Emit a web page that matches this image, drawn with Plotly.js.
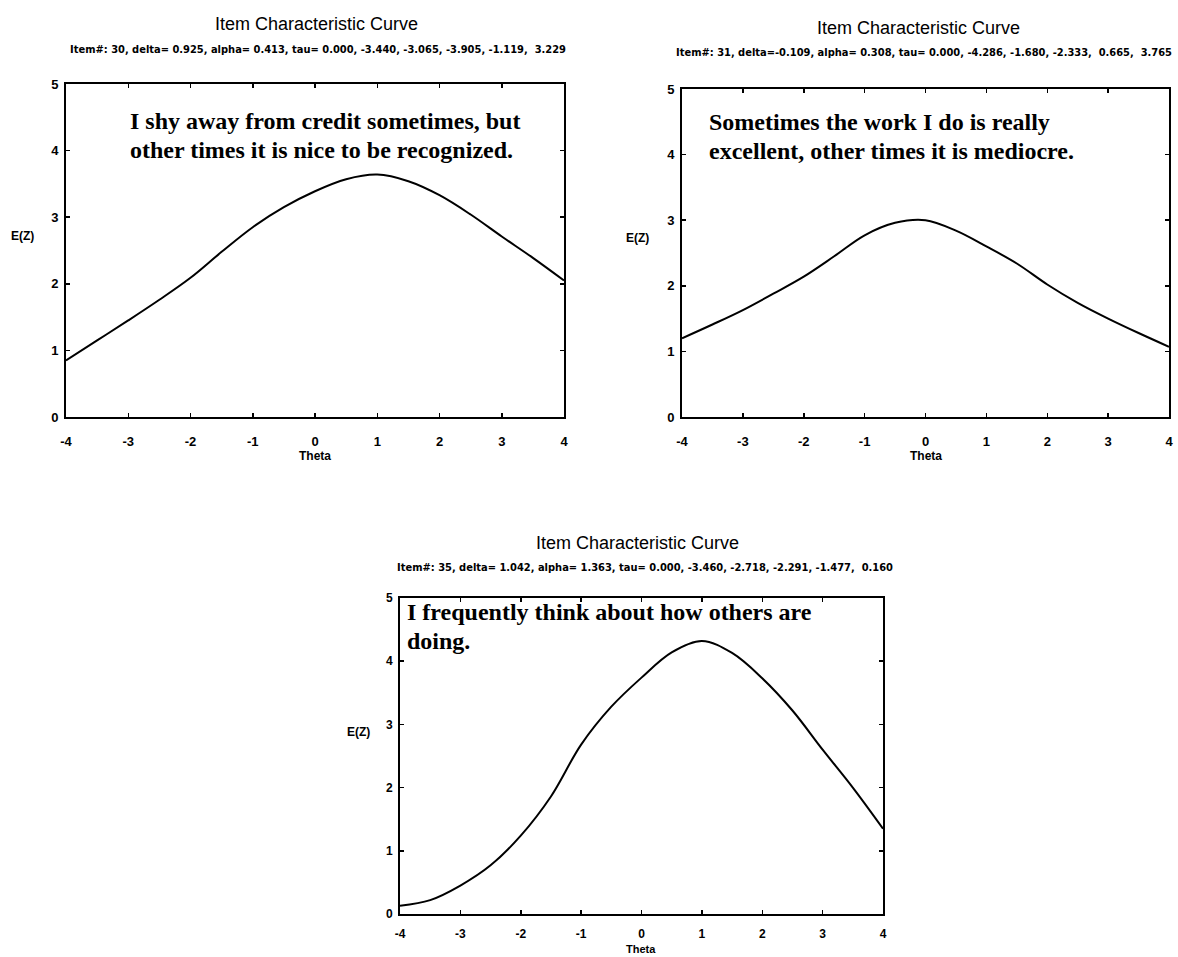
<!DOCTYPE html>
<html>
<head>
<meta charset="utf-8">
<script src="https://cdn.plot.ly/plotly-3.0.1.min.js"></script>
<style>
  html, body { margin: 0; padding: 0; background: #fff; }
  #chart { width: 1178px; height: 957px; }
</style>
</head>
<body>
<div id="chart"></div>
<script>
// Expected item score E(Z) over the latent trait Theta for three items
const theta  = [-4, -3.5, -3, -2.5, -2, -1.5, -1, -0.5, 0, 0.5, 1, 1.5, 2, 2.5, 3, 3.5, 4];
const item30 = [0.85, 1.15, 1.45, 1.76, 2.09, 2.48, 2.85, 3.15, 3.39, 3.57, 3.64, 3.54, 3.33, 3.04, 2.71, 2.39, 2.05];
const item31 = [1.20, 1.41, 1.63, 1.88, 2.14, 2.45, 2.77, 2.96, 3.00, 2.84, 2.60, 2.34, 2.02, 1.74, 1.50, 1.28, 1.07];
const item35 = [0.13, 0.22, 0.45, 0.77, 1.24, 1.86, 2.68, 3.28, 3.74, 4.14, 4.32, 4.13, 3.73, 3.22, 2.60, 2.00, 1.35];

const xTickVals = [-4, -3, -2, -1, 0, 1, 2, 3, 4];
const xTickText = ['-4', '-3', '-2', '-1', '0', '1', '2', '3', '4'];
const yTickVals = [0, 1, 2, 3, 4, 5];
const yTickText = ['0', '1', '2', '3', '4', '5'];

const panelTitle = 'Item Characteristic Curve';
const itemParams = [
  'Item#: 30, delta= 0.925, alpha= 0.413, tau= 0.000, -3.440, -3.065, -3.905, -1.119,  3.229',
  'Item#: 31, delta=-0.109, alpha= 0.308, tau= 0.000, -4.286, -1.680, -2.333,  0.665,  3.765',
  'Item#: 35, delta= 1.042, alpha= 1.363, tau= 0.000, -3.460, -2.718, -2.291, -1.477,  0.160'
];
const statements = [
  ['I shy away from credit sometimes, but', 'other times it is nice to be recognized.'],
  ['Sometimes the work I do is really', 'excellent, other times it is mediocre.'],
  ['I frequently think about how others are', 'doing.']
];
const yLabel = 'E(Z)';
const xLabel = 'Theta';

// ---- layout geometry (pixels in a 1178 x 957 figure) ----
const W = 1178, H = 957;
const fx = p => p / W;
const fy = p => 1 - p / H;

const panels = [
  { box: [66, 564, 84, 417],  title: [316, 24],  sub: [318, 50],  text: [128, 121, 150], ylab: [22, 236],  xlab: 456, tickSize: 13, tickGap: 11, xlabSize: 12 },
  { box: [682, 1169, 89, 417], title: [918, 28], sub: [924, 53],  text: [707, 122, 151], ylab: [637, 238], xlab: 456, tickSize: 13, tickGap: 11, xlabSize: 12 },
  { box: [400, 883, 598, 914], title: [637, 543], sub: [645, 567], text: [405, 612, 641], ylab: [358, 732], xlab: 949, tickSize: 12, tickGap: 8, xlabSize: 11 }
];

const sans = 'Liberation Sans, Arial, sans-serif';
const condensed = 'DejaVu Sans Condensed, Liberation Sans Narrow, Arial Narrow, sans-serif';
const serif = 'Liberation Serif, Times New Roman, serif';

function axisStyle(extra) {
  return Object.assign({
    showgrid: false,
    zeroline: false,
    showline: true,
    linecolor: '#000',
    linewidth: 2,
    mirror: 'ticks',
    ticks: 'inside',
    ticklen: 4,
    tickwidth: 1.5,
    tickcolor: '#000',
    tickfont: { family: sans, size: 13, color: '#000', weight: 'bold' },
    fixedrange: true,
    tickmode: 'array'
  }, extra);
}

const series = [item30, item31, item35];
const traces = series.map((ys, i) => ({
  x: theta,
  y: ys,
  type: 'scatter',
  mode: 'lines',
  line: { color: '#000', width: 2, shape: 'spline', smoothing: 1 },
  xaxis: i === 0 ? 'x' : 'x' + (i + 1),
  yaxis: i === 0 ? 'y' : 'y' + (i + 1),
  hoverinfo: 'skip',
  showlegend: false
}));

const layout = {
  width: W,
  height: H,
  margin: { l: 0, r: 0, t: 0, b: 0 },
  paper_bgcolor: '#fff',
  plot_bgcolor: '#fff',
  showlegend: false,
  annotations: []
};

panels.forEach((p, i) => {
  const n = i === 0 ? '' : String(i + 1);
  const [x0, x1, y0, y1] = p.box;
  layout['xaxis' + n] = axisStyle({
    domain: [fx(x0), fx(x1)],
    range: [-4, 4],
    anchor: 'y' + n,
    tickvals: xTickVals,
    ticktext: xTickText,
    ticklabelstandoff: p.tickGap,
    tickfont: { family: sans, size: p.tickSize, color: '#000', weight: 'bold' }
  });
  layout['yaxis' + n] = axisStyle({
    domain: [fy(y1), fy(y0)],
    range: [0, 5],
    anchor: 'x' + n,
    tickvals: yTickVals,
    ticktext: yTickText,
    ticklabelstandoff: 3,
    tickfont: { family: sans, size: p.tickSize, color: '#000', weight: 'bold' }
  });

  const ann = layout.annotations;
  ann.push({
    text: panelTitle, xref: 'paper', yref: 'paper',
    x: fx(p.title[0]), y: fy(p.title[1]), xanchor: 'center', yanchor: 'middle',
    showarrow: false, font: { family: sans, size: 18, color: '#000' }
  });
  ann.push({
    text: itemParams[i], xref: 'paper', yref: 'paper',
    x: fx(p.sub[0]), y: fy(p.sub[1]), xanchor: 'center', yanchor: 'middle',
    showarrow: false, font: { family: condensed, size: 11, color: '#000', weight: 'bold' }
  });
  statements[i].forEach((line, k) => {
    ann.push({
      text: line, xref: 'paper', yref: 'paper',
      x: fx(p.text[0]), y: fy(p.text[1 + k]), xanchor: 'left', yanchor: 'middle',
      showarrow: false, font: { family: serif, size: 24, color: '#000', weight: 'bold' }
    });
  });
  ann.push({
    text: yLabel, xref: 'paper', yref: 'paper',
    x: fx(p.ylab[0]), y: fy(p.ylab[1]), xanchor: 'center', yanchor: 'middle',
    showarrow: false, font: { family: sans, size: 12, color: '#000', weight: 'bold' }
  });
  ann.push({
    text: xLabel, xref: 'paper', yref: 'paper',
    x: fx((x0 + x1) / 2), y: fy(p.xlab), xanchor: 'center', yanchor: 'middle',
    showarrow: false, font: { family: sans, size: p.xlabSize, color: '#000', weight: 'bold' }
  });
});

Plotly.newPlot('chart', traces, layout, { staticPlot: true, displayModeBar: false });
</script>
</body>
</html>
